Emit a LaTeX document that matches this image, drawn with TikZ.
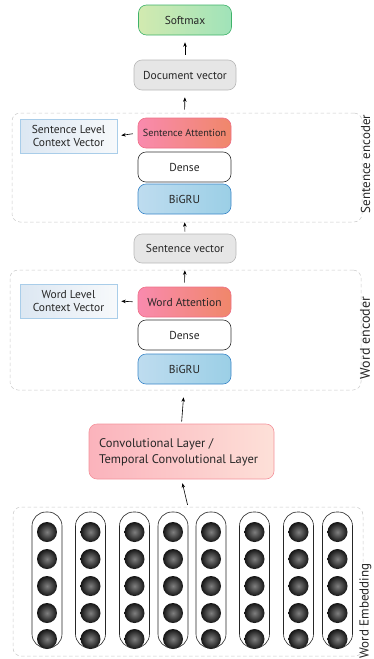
\documentclass[tikz,border=0pt]{standalone}
\usepackage{fontspec}
\setmainfont{PT Sans}
\usetikzlibrary{arrows.meta}
\definecolor{smL}{HTML}{D2EAB0}
\definecolor{smR}{HTML}{A0E3B9}
\definecolor{smB}{HTML}{3FB26A}
\definecolor{gyF}{HTML}{E6E6E6}
\definecolor{gyB}{HTML}{B8B8B8}
\definecolor{cxL}{HTML}{DCE7F2}
\definecolor{cxR}{HTML}{F7F9FB}
\definecolor{cxB}{HTML}{A9CDE9}
\definecolor{atL}{HTML}{F98AAE}
\definecolor{atR}{HTML}{F0876A}
\definecolor{atB}{HTML}{EE7088}
\definecolor{bgL}{HTML}{BEDCEF}
\definecolor{bgR}{HTML}{9BCFE6}
\definecolor{bgB}{HTML}{3B87C9}
\definecolor{cvL}{HTML}{FBB3BC}
\definecolor{cvR}{HTML}{FDE0D8}
\definecolor{cvB}{HTML}{F4939C}
\definecolor{dsh}{HTML}{C8C8C8}
\tikzset{
  box/.style={rounded corners=8pt, minimum width=93pt, minimum height=30pt, inner sep=1pt, font=\fontsize{11.5}{13}\selectfont, text=black!85, line width=0.6pt},
  softbox/.style={box, draw=smB, left color=smL, right color=smR},
  graybox/.style={box, minimum width=102pt, draw=gyB, fill=gyF},
  ctxbox/.style={draw=cxB, left color=cxL, right color=cxR, minimum width=97pt, minimum height=34pt, inner sep=1pt, align=center, font=\fontsize{11.5}{13}\selectfont, text=black!85, line width=0.6pt},
  attbox/.style={box, draw=atB, left color=atL, right color=atR},
  densebox/.style={box, draw=black!80, fill=white},
  grubox/.style={box, draw=bgB, left color=bgL, right color=bgR},
  frame/.style={draw=dsh, dashed, dash pattern=on 3.5pt off 2.5pt, rounded corners=8pt, line width=0.5pt},
  arr/.style={-{Stealth[length=4.5pt,width=3.5pt]}, line width=0.6pt, black},
  sidelabel/.style={rotate=90, text=black!85, inner sep=0pt, font=\fontsize{13}{14}\selectfont},
  pill/.style={draw=black!85, fill=white, rounded corners=14pt, minimum width=30pt, minimum height=136pt, line width=0.6pt},
  ball/.style={circle, minimum size=20pt, inner sep=0pt, inner color=black!50, outer color=black!92, shading=radial}
}
\begin{document}
\begin{tikzpicture}[x=1pt,y=-1pt]
\useasboundingbox (0,0) rectangle (373,659);
% frames
\node[frame, minimum width=350pt, minimum height=109pt] (senc) at (187,167.5) {};
\node[frame, minimum width=351pt, minimum height=120pt] (wenc) at (185.5,330) {};
\node[frame, minimum width=350pt, minimum height=149pt] (emb) at (188,581.5) {};
% top
\node[softbox] (soft) at (185,20) {Softmax};
\node[graybox] (doc) at (185,75) {Document vector};
% sentence encoder
\node[attbox, font=\fontsize{10.2}{11}\selectfont] (satt) at (184.5,133) {Sentence Attention};
\node[densebox] (sden) at (184.5,167) {Dense};
\node[grubox] (sgru) at (184.5,199) {BiGRU};
\node[ctxbox] (sctx) at (68.5,136) {Sentence Level\\Context Vector};
\node[graybox, minimum height=29pt] (sv) at (185,248.5) {Sentence vector};
% word encoder
\node[attbox] (watt) at (184.5,302) {Word Attention};
\node[densebox] (wden) at (184.5,335) {Dense};
\node[grubox] (wgru) at (184.5,369) {BiGRU};
\node[ctxbox] (wctx) at (68.5,301) {Word Level\\Context Vector};
% conv
\node[box, draw=cvB, left color=cvL, right color=cvR, minimum width=185pt, minimum height=55pt, inner sep=0pt] (conv) at (181.5,451.5) {};
\node[anchor=west, align=left, font=\fontsize{12.5}{16}\selectfont, text=black!85, inner sep=0pt] (convt) at (99,452) {Convolutional Layer /\\ Temporal Convolutional Layer};
% side labels
\node[sidelabel] (lsent) at (365.5,164) {Sentence encoder};
\node[sidelabel, font=\fontsize{14}{15}\selectfont] (lword) at (365,338) {Word encoder};
\node[sidelabel] (lemb) at (365.5,611) {Word Embedding};
% embedding pills
\foreach \i/\x in {1/47,2/90.5,3/134.5,4/173,5/211,6/254.5,7/298.5,8/337.5}{
  \node[pill] (p\i) at (\x,580) {};
  \foreach \j/\y in {1/532,2/559,3/586,4/613,5/639}{
    \node[ball] (b\i\j) at (\x,\y) {};
  }
}
% arrows
\draw[arr, shorten <=5pt, shorten >=7pt] (doc.north) -- (soft.south);
\draw[arr, shorten <=8pt, shorten >=7pt] (satt.north) -- (doc.south);
\draw[arr, shorten <=2pt, shorten >=8pt] (sv.north) -- (sgru.south);
\draw[arr, shorten <=4pt, shorten >=7pt] (watt.north) -- (sv.south);
\draw[arr, shorten <=2pt, shorten >=13pt] (conv.north) -- (wgru.south);
\draw[arr, shorten <=2pt, shorten >=4pt] (emb.north) -- (conv.south);
\draw[arr, shorten <=5pt, shorten >=4pt] (satt.west) -- (sctx.east);
\draw[arr, shorten <=5pt, shorten >=4pt] (watt.west) -- (wctx.east);
\end{tikzpicture}
\end{document}
